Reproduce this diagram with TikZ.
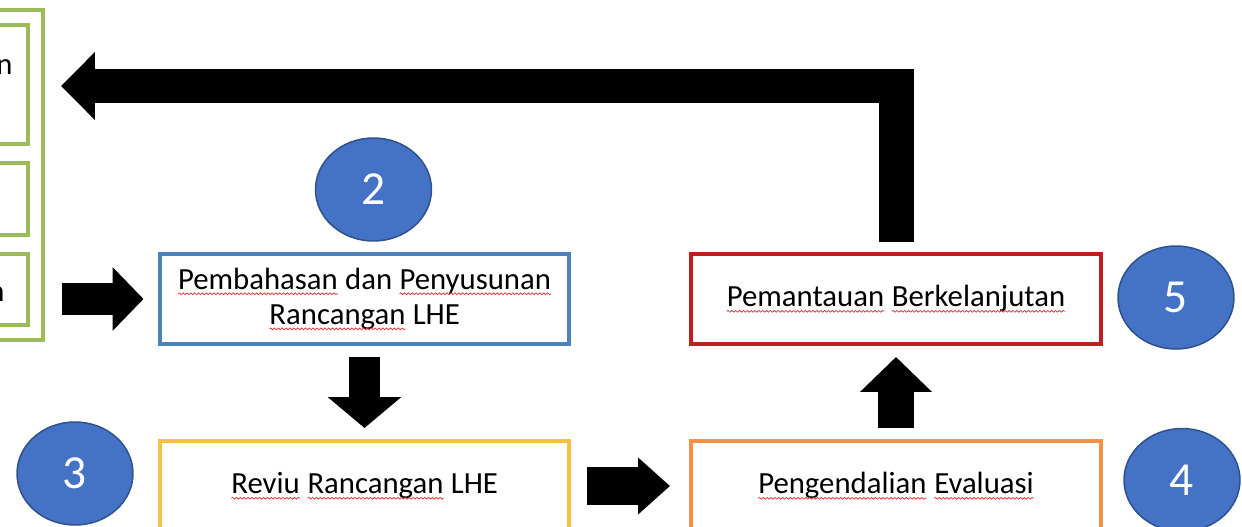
\documentclass[tikz,border=0pt]{standalone}
\usepackage{fontspec}
\setmainfont{Carlito}
\usepackage{xcolor}
\usetikzlibrary{positioning,arrows.meta,shapes.geometric,decorations.pathmorphing}

\definecolor{hijau}{HTML}{9BBB59}
\definecolor{biru}{HTML}{4F81BD}
\definecolor{kuning}{HTML}{F6C143}
\definecolor{oranye}{HTML}{F39247}
\definecolor{merah}{HTML}{BF1E1E}
\definecolor{biruIsi}{HTML}{4472C4}
\definecolor{biruTepi}{HTML}{2F528F}
\definecolor{garisEja}{HTML}{E03C3C}

\newcommand{\salah}[1]{\tikz[baseline=(kata.base)]{\node[rectangle, draw=none, fill=none, minimum width=0pt,
    minimum height=0pt, inner sep=0pt, outer sep=0pt] (kata) {#1};
  \draw[garisEja, line width=0.45pt, decorate, decoration={snake, amplitude=0.5pt, segment length=2.2pt}]
    ([yshift=-2.6pt]kata.base west) -- ([yshift=-2.6pt]kata.base east);}}

\begin{document}
\begin{tikzpicture}[x=0.02cm, y=-0.02cm,
  kotak/.style={draw, line width=0.08cm, minimum width=8.2cm, minimum height=1.8cm,
    align=center, font=\fontsize{17.5}{20}\selectfont},
  grup/.style={draw=hijau, line width=0.07cm},
  nomor/.style={ellipse, draw=biruTepi, line width=0.03cm, fill=biruIsi,
    minimum width=2.32cm, minimum height=2.06cm, text=white, font=\fontsize{27}{30}\selectfont},
  panah/.style={line width=0.66cm, -{Triangle[length=0.62cm, width=1.24cm]}}]
\useasboundingbox (0,0) rectangle (1242,527);
\clip (0,0) rectangle (1242,527);
\fill[white] (0,0) rectangle (1242,527);

% kelompok hijau di kiri
\node[grup, minimum width=4.86cm, minimum height=6.6cm] (grup) at (-78.5,175) {};
\node[grup, minimum width=4.56cm, minimum height=2.38cm] (grup_a) at (-86,84.5) {};
\node[grup, minimum width=4.56cm, minimum height=1.44cm] (grup_b) at (-86,199) {};
\node[grup, minimum width=4.56cm, minimum height=1.42cm] (grup_c) at (-86,289.5) {};
\node[anchor=base east, inner sep=0pt, font=\fontsize{17.5}{20}\selectfont] (teks_a) at (13,75) {n};
\node[anchor=base east, inner sep=0pt, font=\fontsize{17.5}{20}\selectfont] (teks_c) at (5,301) {n};

% tahapan
\node[kotak, draw=biru] (pembahasan) at (364.5,299) {\salah{Pembahasan} dan \salah{Penyusunan}\\\salah{Rancangan} LHE};
\node[kotak, draw=kuning] (reviu) at (364.5,486) {\salah{Reviu} \salah{Rancangan} LHE};
\node[kotak, draw=oranye] (pengendalian) at (896,486) {\salah{Pengendalian} \salah{Evaluasi}};
\node[kotak, draw=merah] (pemantauan) at (896,299) {\salah{Pemantauan} \salah{Berkelanjutan}};

\node[nomor] (nomor_2) at (373.5,189.5) {2};
\node[nomor] (nomor_3) at (75,473.5) {3};
\node[nomor] (nomor_4) at (1182,480) {4};
\node[nomor] (nomor_5) at (1176,297.5) {5};

% panah
\coordinate (ujung) at (61,86);
\draw[panah, shorten <=0.35cm, shorten >=0.28cm] (grup.east |- pembahasan.west) -- (pembahasan.west);
\draw[panah, line width=0.62cm, -{Triangle[length=0.62cm, width=1.44cm]}, shorten <=0.22cm, shorten >=0.22cm] (pembahasan.south) -- (reviu.north);
\draw[panah, line width=0.78cm, -{Triangle[length=0.64cm, width=1.1cm]}, shorten <=0.32cm, shorten >=0.38cm] (reviu.east) -- (pengendalian.west);
\draw[panah, line width=0.72cm, -{Triangle[length=0.7cm, width=1.4cm]}, shorten <=0.22cm, shorten >=0.22cm] (pengendalian.north) -- (pemantauan.south);
\draw[panah, line width=0.7cm, line join=miter, -{Triangle[length=0.68cm, width=1.32cm]}, shorten <=0.2cm] (pemantauan.north) |- (ujung);

\end{tikzpicture}
\end{document}
